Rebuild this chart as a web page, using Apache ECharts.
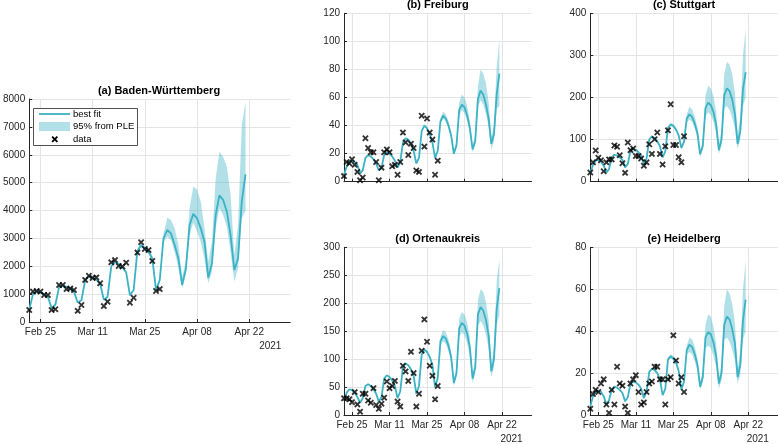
<!DOCTYPE html>
<html>
<head>
<meta charset="utf-8">
<script src="https://cdn.jsdelivr.net/npm/echarts@6/dist/echarts.min.js"></script>
<style>
html,body{margin:0;padding:0;background:#fff;}
#chart{width:778px;height:444px;}
</style>
</head>
<body>
<div id="chart"></div>
<script>
// ---------- data (day 0 = 2021-02-22) ----------
const startDate = '2021-02-22';
const nDays = 71;
const tickLabels = ['Feb 25', 'Mar 11', 'Mar 25', 'Apr 08', 'Apr 22'];
const yearLabel = '2021';
const bandStart = 29; // first day index of the PLE band arrays

// (a) Baden-Württemberg
const fitBW = [450,1000,1090,1060,990,900,500,620,1250,1320,1260,1190,1080,700,780,1500,1640,1600,1520,1380,800,900,2000,2150,2080,1960,1780,960,1150,2550,2750,2650,2520,2280,1150,1500,3000,3300,3180,2760,2280,1330,1900,3480,3880,3720,3360,2880,1590,2100,3840,4540,4380,3960,3120,1870,2280,4320,5300];
const upBW  = [2620,2830,2730,2600,2360,1200,1580,3150,3740,3660,3360,2760,1630,2165,4080,4860,4740,4320,3360,2165,2880,5150,6110,5930,5570,4560,2400,3480,7070,7900];
const loBW  = [2480,2670,2570,2440,2200,1100,1420,2850,3060,2950,2500,1950,1200,1700,3120,3560,3250,2880,2280,1390,1800,3360,4080,3840,3420,2520,1450,1925,3720,4000];
const dataBW = [430,1090,1110,1090,970,970,430,460,1330,1330,1180,1200,1150,400,610,1510,1660,1580,1600,1390,570,730,2140,2220,2010,1990,2130,690,870,2490,2860,2620,2580,2190,1110,1180];

// (b) Freiburg
const fitFR = [5,11,14,15,14,12,6,8,17,19,18,16,13,8,10,19,21,20,18,15,10,14,28,31,30,27,22,13,17,36,40,38,34,28,17,22,43,47,45,40,33,20,26,51,55,53,47,38,23,29,59,65,62,55,45,27,34,62,77];
const upFR  = [37,41,39,35,29,18,23,45,50,48,43,36,22,28,56,62,60,54,43,26,33,68,80,77,70,57,32,40,82,101];
const loFR  = [35,39,37,33,27,16,21,41,45,43,38,31,19,24,47,51,49,43,34,21,26,54,58,55,48,39,23,29,52,54];
const dataFR = [4,14,13,16,12,7,1,3,31,24,21,21,14,1,10,21,23,21,11,12,5,14,35,28,19,27,24,8,7,47,25,45,35,30,5,15];

// (c) Stuttgart
const fitST = [20,40,50,52,48,38,22,30,58,64,62,58,52,34,42,74,79,76,70,62,42,55,100,108,104,96,84,58,72,128,136,133,124,110,80,95,150,160,154,138,115,65,85,175,188,182,165,135,75,100,205,222,215,195,160,90,120,220,260];
const upST  = [131,140,137,128,114,83,99,160,178,172,155,130,75,97,205,228,222,203,165,90,122,255,285,278,255,210,115,150,300,364];
const loST  = [125,132,129,120,106,77,91,140,148,142,126,104,58,76,155,165,158,142,115,66,86,175,180,170,152,125,78,100,180,200];
const dataST = [22,46,74,57,51,25,46,53,53,86,83,63,44,21,93,75,79,61,61,55,38,46,89,66,101,117,66,41,84,122,184,87,87,58,46,108];

// (d) Ortenaukreis
const fitOR = [25,40,46,45,40,32,22,30,52,55,52,46,38,24,32,65,71,68,62,52,30,42,86,92,89,82,70,38,52,108,117,113,104,90,50,66,132,141,137,124,104,57,75,155,165,160,145,120,65,85,180,193,187,170,142,78,100,190,227];
const upOR  = [111,120,116,107,93,52,69,140,152,148,135,114,62,82,172,184,180,165,138,75,98,205,225,220,202,170,92,120,240,278];
const loOR  = [105,114,110,101,87,48,63,124,132,127,114,95,52,68,140,148,142,128,104,57,74,160,168,160,144,118,68,86,160,180];
const dataOR = [30,30,28,23,41,19,6,38,38,26,22,48,18,11,20,31,60,48,52,61,24,15,88,78,61,113,75,15,38,115,171,131,88,70,28,52];

// (e) Heidelberg
const fitHD = [4,9,11,11.5,11,9,5,7,12,13.5,13,12,10.5,6.5,8.5,15,16,15.5,14.5,12.5,8,11,20.5,22,21.5,20,17,9.5,12.5,26.5,28,27,25,21,12,16,31,33.5,32.5,29,24,13.5,18,37,39.5,38.5,34.5,28,15,20,43,47,45.5,41,34,18,24,45,55];
const upHD  = [27.5,29,28,26,22,12.5,17,33,37,36,32.5,27,16,21,43,48,47,42,34,18,24,52,60,58,53,44,22,30,60,74];
const loHD  = [25.5,27,26,24,20,11.5,15,29,30,29,25.5,21,12,15.5,32,33,32,28,23,12.5,16.5,36,37,35,31,26,15,19,36,40];
const dataHD = [3,10,12,11,15,17,5,1,12,5,23,15,14,4,1,15,17,19,11,5,6,11,15,16,23,23,17,17,5,17,18,38,26,15,18,11];

const titles = ['(a) Baden-Württemberg', '(b) Freiburg', '(c) Stuttgart', '(d) Ortenaukreis', '(e) Heidelberg'];
const legendTexts = ['best fit', '95% from PLE', 'data'];

// ---------- styling ----------
const LINE = '#3cb2c5';
const BAND = 'rgba(70,182,200,0.42)';
const AX = '#262626';
const GRID = '#e4e4e4';
const FONT = '"Liberation Sans", Arial, Helvetica, sans-serif';

// categories (one per day)
const months = ['Jan','Feb','Mar','Apr','May','Jun','Jul','Aug','Sep','Oct','Nov','Dec'];
const cats = [];
const t0 = Date.parse(startDate + 'T00:00:00Z');
for (let i = 0; i < nDays; i++) {
  const d = new Date(t0 + i * 86400000);
  cats.push(months[d.getUTCMonth()] + ' ' + String(d.getUTCDate()).padStart(2, '0'));
}
const isTick = (idx) => tickLabels.indexOf(cats[idx]) >= 0;

const panels = [
  {fit: fitBW, up: upBW, lo: loBW, data: dataBW, max: 8000, step: 1000, labels: true,
   grid: {left: 27.75, width: 262.5, top: 99, height: 223}},
  {fit: fitFR, up: upFR, lo: loFR, data: dataFR, max: 120, step: 20, labels: false,
   grid: {left: 344, width: 187.5, top: 13.3, height: 168.4}},
  {fit: fitST, up: upST, lo: loST, data: dataST, max: 400, step: 100, labels: false,
   grid: {left: 590.3, width: 187.5, top: 13.3, height: 168.4}},
  {fit: fitOR, up: upOR, lo: loOR, data: dataOR, max: 300, step: 50, labels: true,
   grid: {left: 344, width: 187.5, top: 247.3, height: 167.7}},
  {fit: fitHD, up: upHD, lo: loHD, data: dataHD, max: 80, step: 20, labels: true,
   grid: {left: 590.3, width: 187.5, top: 247.3, height: 167.7}}
];

const pad = new Array(bandStart).fill(null);
const XPTS = [[2,0],[5,3],[8,0],[10,2],[7,5],[10,8],[8,10],[5,7],[2,10],[0,8],[3,5],[0,2]];
const XMARK = 'path://M2,0L5,3L8,0L10,2L7,5L10,8L8,10L5,7L2,10L0,8L3,5L0,2Z';

const grids = [], xAxes = [], yAxes = [], series = [], graphics = [];
panels.forEach((p, k) => {
  grids.push(Object.assign({containLabel: false}, p.grid));
  xAxes.push({
    type: 'category', gridIndex: k, data: cats, boundaryGap: false,
    axisLine: {show: true, onZero: false, lineStyle: {color: AX, width: 1}},
    axisTick: {show: true, inside: true, length: 3, interval: (i) => isTick(i), lineStyle: {color: AX}},
    axisLabel: {show: p.labels, interval: (i) => isTick(i), color: AX, fontSize: 10, fontFamily: FONT, margin: 5},
    splitLine: {show: true, interval: (i) => isTick(i), lineStyle: {color: GRID, width: 1}}
  });
  yAxes.push({
    type: 'value', gridIndex: k, min: 0, max: p.max, interval: p.step,
    axisLine: {show: true, lineStyle: {color: AX, width: 1}},
    axisTick: {show: true, inside: true, length: 3, lineStyle: {color: AX}},
    axisLabel: {color: AX, fontSize: 10, fontFamily: FONT, margin: 4, formatter: (v) => String(v)},
    splitLine: {show: true, lineStyle: {color: GRID, width: 1}}
  });
  const lo = pad.concat(p.lo);
  const diff = pad.concat(p.up.map((u, i) => u - p.lo[i]));
  series.push({
    type: 'line', xAxisIndex: k, yAxisIndex: k, stack: 'band' + k, data: lo,
    symbol: 'none', silent: true, lineStyle: {opacity: 0}, z: 1
  });
  series.push({
    name: legendTexts[1], type: 'line', xAxisIndex: k, yAxisIndex: k, stack: 'band' + k, data: diff,
    symbol: 'none', silent: true, lineStyle: {opacity: 0}, areaStyle: {color: BAND, opacity: 1}, z: 1
  });
  series.push({
    name: legendTexts[0], type: 'line', xAxisIndex: k, yAxisIndex: k, data: p.fit,
    symbol: 'none', lineStyle: {color: LINE, width: 1.8}, z: 3
  });
  series.push({
    name: legendTexts[2], type: 'scatter', xAxisIndex: k, yAxisIndex: k, data: p.data,
    symbol: XMARK, symbolSize: 6.5, itemStyle: {color: '#000'}, z: 5
  });
  graphics.push({
    type: 'text', z: 100,
    x: p.grid.left + p.grid.width / 2, y: p.grid.top - 8,
    style: {text: titles[k], fill: '#000', font: 'bold 11px ' + FONT, textAlign: 'center', textVerticalAlign: 'middle'}
  });
  if (p.labels) {
    graphics.push({
      type: 'text', z: 100,
      x: p.grid.left + p.grid.width - 20, y: p.grid.top + p.grid.height + 24,
      style: {text: yearLabel, fill: AX, font: '10px ' + FONT, textAlign: 'center', textVerticalAlign: 'middle'}
    });
  }
});

// legend (panel a)
graphics.push(
  {type: 'rect', z: 100, shape: {x: 33.5, y: 108.5, width: 104, height: 37},
   style: {fill: '#fff', stroke: AX, lineWidth: 0.8}},
  {type: 'line', z: 101, shape: {x1: 39, y1: 114, x2: 70, y2: 114}, style: {stroke: LINE, lineWidth: 1.8}},
  {type: 'rect', z: 101, shape: {x: 39, y: 122, width: 31, height: 9}, style: {fill: BAND}},
  {type: 'polygon', z: 101, shape: {points: XPTS.map(q => [51.5 + q[0] * 0.65, 136 + q[1] * 0.65])}, style: {fill: '#000'}},
  {type: 'text', z: 101, x: 73, y: 114, style: {text: legendTexts[0], fill: '#000', font: '9.5px ' + FONT, textVerticalAlign: 'middle'}},
  {type: 'text', z: 101, x: 73, y: 126.5, style: {text: legendTexts[1], fill: '#000', font: '9.5px ' + FONT, textVerticalAlign: 'middle'}},
  {type: 'text', z: 101, x: 73, y: 139.5, style: {text: legendTexts[2], fill: '#000', font: '9.5px ' + FONT, textVerticalAlign: 'middle'}}
);

const chart = echarts.init(document.getElementById('chart'), null, {renderer: 'canvas'});
chart.setOption({
  animation: false,
  backgroundColor: '#fff',
  textStyle: {fontFamily: FONT},
  grid: grids, xAxis: xAxes, yAxis: yAxes, series: series,
  graphic: graphics
});
</script>
</body>
</html>
